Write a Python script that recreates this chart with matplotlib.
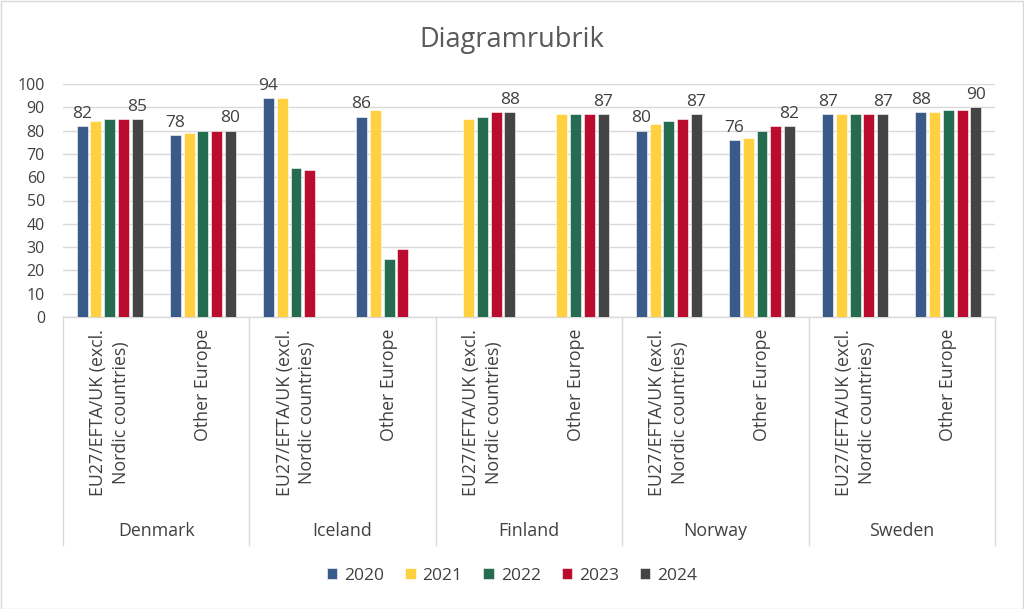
import numpy as np
import matplotlib
matplotlib.use("Agg")
import matplotlib.pyplot as plt
from matplotlib.patches import Rectangle
from matplotlib.transforms import blended_transform_factory

plt.rcParams['font.family'] = ['Open Sans', 'DejaVu Sans']

countries = ["Denmark", "Iceland", "Finland", "Norway", "Sweden"]
regions = ["EU27/EFTA/UK (excl.\nNordic countries)", "Other Europe"]
years = ["2020", "2021", "2022", "2023", "2024"]
nan = np.nan
# rows: Denmark EU, Denmark Other, Iceland EU, Iceland Other, Finland EU, Finland Other,
#       Norway EU, Norway Other, Sweden EU, Sweden Other
v2020 = [82, 78, 94, 86, nan, nan, 80, 76, 87, 88]
v2021 = [84, 79, 94, 89, 85, 87, 83, 77, 87, 88]
v2022 = [85, 80, 64, 25, 86, 87, 84, 80, 87, 89]
v2023 = [85, 80, 63, 29, 88, 87, 85, 82, 87, 89]
v2024 = [85, 80, nan, nan, 88, 87, 87, 82, 87, 90]
series = [v2020, v2021, v2022, v2023, v2024]
colors = ["#3A5A89", "#FFD040", "#256B4F", "#BA0C2F", "#444444"]

W, H = 1024, 609
fig = plt.figure(figsize=(W / 100, H / 100), dpi=100)
fig.patches.append(Rectangle((0.5 / W, 0.5 / H), 1 - 1.5 / W, 1 - 1.5 / H, transform=fig.transFigure,
                             fill=False, edgecolor="#D9D9D9", linewidth=1))

x0, x1 = 63, 995
ytop, ybot = 84, 317
ax = fig.add_axes([x0 / W, 1 - ybot / H, (x1 - x0) / W, (ybot - ytop) / H])

n = len(v2020)
x = np.arange(n)
slot = 0.148
bw = 0.118
for i, (vals, c, yr) in enumerate(zip(series, colors, years)):
    pos = x + (i - 2) * slot
    ax.bar(pos, vals, width=bw, color=c, edgecolor="white", linewidth=0.4, label=yr, zorder=3)

# data labels on the first (2020) and last (2024) series
for j in range(n):
    for i in (0, 4):
        v = series[i][j]
        if not np.isnan(v):
            ax.annotate(f"{int(v)}", (x[j] + (i - 2) * slot, v), xytext=(0, 3), textcoords="offset points",
                        ha="center", va="bottom", fontsize=12.5, color="#404040", zorder=4)

ax.set_xlim(-0.5, n - 0.5)
ax.set_ylim(0, 100)
ax.set_yticks(np.arange(0, 101, 10))
ax.tick_params(axis="y", length=0, labelsize=11.5, labelcolor="#404040", pad=13)
ax.set_xticks([])
ax.grid(axis="y", color="#D9D9D9", linewidth=1, zorder=0)
for s in ["top", "right", "left"]:
    ax.spines[s].set_visible(False)
ax.spines["bottom"].set_color("#D9D9D9")
ax.spines["bottom"].set_linewidth(1)

# category labels
trans = blended_transform_factory(ax.transData, fig.transFigure)
for j in range(n):
    ax.text(x[j], 1 - 329 / H, regions[j % 2], transform=trans, rotation=90, ha="center", va="top",
            fontsize=12.8, color="#404040", linespacing=1.35, multialignment="center")
for k, cn in enumerate(countries):
    ax.text(2 * k + 0.5, 1 - 531 / H, cn, transform=trans, ha="center", va="center",
            fontsize=12.8, color="#404040")
for k in range(len(countries) + 1):
    xx = 2 * k - 0.5
    ax.plot([xx, xx], [1 - ybot / H, 1 - 545 / H], transform=trans, color="#D9D9D9", linewidth=1,
            clip_on=False)

fig.text(0.5, 1 - 40 / H, "Diagramrubrik", ha="center", va="center", fontsize=19.5, color="#595959")

fig.legend(loc="center", bbox_to_anchor=(0.5, 1 - 576 / H), ncol=5, frameon=False, fontsize=12.5,
           handlelength=0.6, handleheight=0.6, handletextpad=0.4, columnspacing=1.2,
           labelcolor="#404040")

fig.savefig("out.png", dpi=100)
